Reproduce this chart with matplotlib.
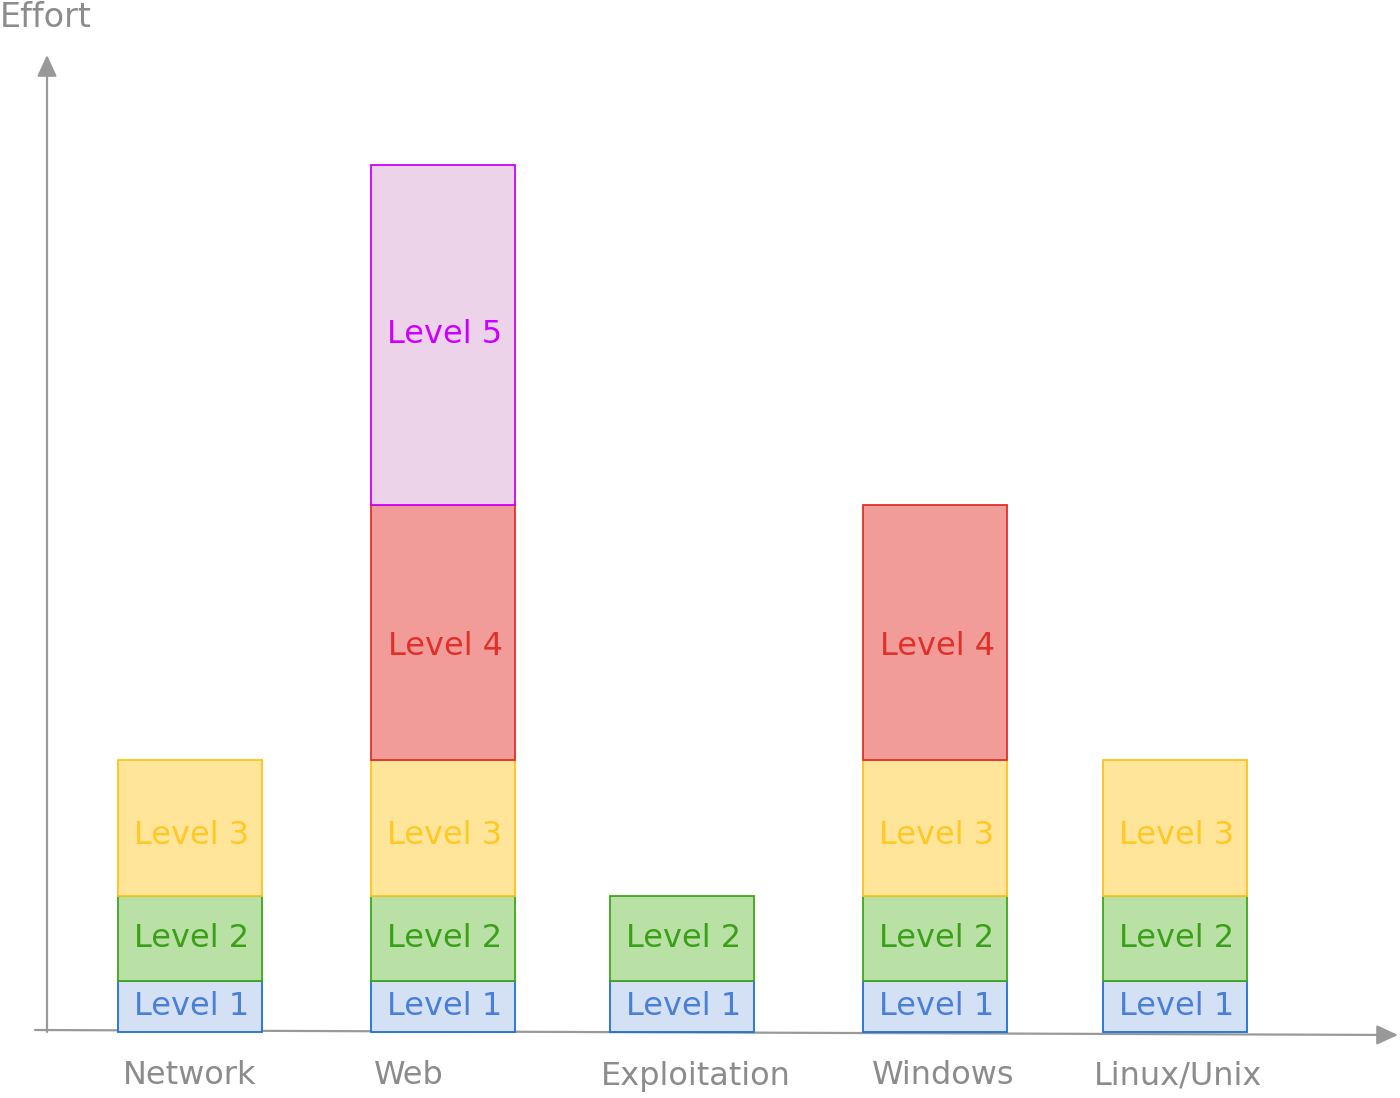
import matplotlib.pyplot as plt

# data: effort per level, per track (0 = level not present)
categories = ["Network", "Web", "Exploitation", "Windows", "Linux/Unix"]
levels = ["Level 1", "Level 2", "Level 3", "Level 4", "Level 5"]
level_effort = [3, 5, 8, 15, 20]
has_level = [
    [1, 1, 1, 0, 0],  # Network
    [1, 1, 1, 1, 1],  # Web
    [1, 1, 0, 0, 0],  # Exploitation
    [1, 1, 1, 1, 0],  # Windows
    [1, 1, 1, 0, 0],  # Linux/Unix
]

# layout (pixel-like x positions of the bars)
bar_x = [190, 443, 682, 935, 1175]
label_x = [190, 409, 696, 943, 1178]
bar_w = 144
text_dy = [0, 0, 7, 14, 0]  # small downward nudge of labels, in px

fills = ["#d4e1f5", "#b9e0a5", "#ffe599", "#f19c99", "#ecd3ea"]
edges = ["#1f6fd8", "#3ea61e", "#ffc21a", "#e0302a", "#cc00ff"]
texts = ["#4a7fd8", "#3aa018", "#ffc825", "#e0302a", "#cc00ff"]
grey = "#999999"

px = 17.0  # pixels per effort unit
fig = plt.figure(figsize=(14, 10.98), dpi=100)
ax = fig.add_axes([0, 0, 1, 1])
ax.set_xlim(0, 1400)
ax.set_ylim(-(1098 - 1032) / px, 1032 / px)
ax.axis("off")

# axes drawn as arrows
arrow = dict(arrowstyle="-|>,head_length=1.3,head_width=0.6",
             color=grey, lw=1.6, shrinkA=0, shrinkB=0)
ax.annotate("", xy=(47, (1032 - 55) / px), xytext=(47, 0), arrowprops=arrow)
ax.annotate("", xy=(1398, -3 / px), xytext=(35, 2 / px), arrowprops=arrow)

for i, cat in enumerate(categories):
    bottom = 0
    for j, lv in enumerate(levels):
        if not has_level[i][j]:
            continue
        h = level_effort[j]
        ax.bar(bar_x[i], h, bottom=bottom, width=bar_w, color=fills[j],
               edgecolor=edges[j], linewidth=1.3, zorder=3)
        ax.text(bar_x[i] + 2, bottom + h / 2 - text_dy[j] / px, lv,
                ha="center", va="center", fontsize=23, fontweight="medium",
                color=texts[j], zorder=4)
        bottom += h
    ax.text(label_x[i], -(1076 - 1032) / px, cat, ha="center", va="center",
            fontsize=23, fontweight="medium", color="#8c8c8c")

ax.text(0, (1032 - 18) / px, "Effort", ha="left", va="center",
        fontsize=24, fontweight="medium", color="#8c8c8c")

fig.savefig("out.png", dpi=100)
